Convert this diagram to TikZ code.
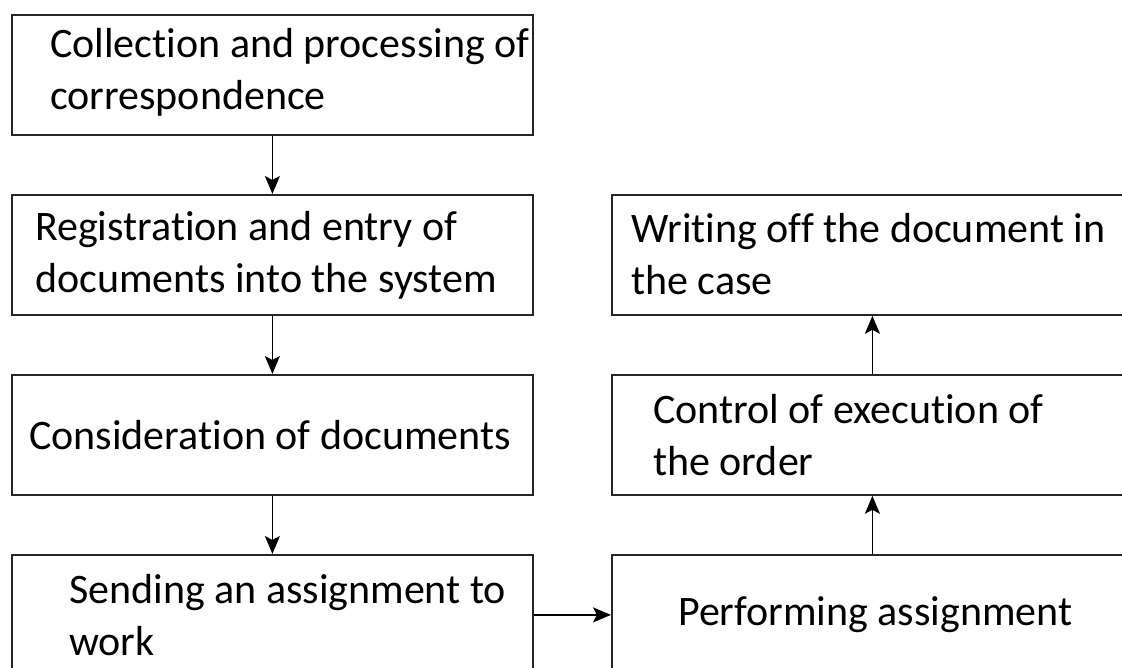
\documentclass[tikz,border=0pt]{standalone}
\usepackage{fontspec}
\setmainfont{Carlito}[Ligatures={NoCommon}]
\usetikzlibrary{arrows.meta,calc}

\begin{document}
\begin{tikzpicture}[x=1pt,y=-1pt,
  box/.style={draw=black!85,line width=1.8pt,minimum width=521pt,minimum height=120pt,inner sep=0pt,anchor=north west},
  label/.style={anchor=west,align=left,inner sep=0pt,font=\fontsize{42pt}{52pt}\selectfont},
  flow/.style={line width=1.6pt,-{Stealth[length=18pt,width=15pt,inset=4pt]}}]
  \useasboundingbox (0,0) rectangle (1122,668);
  \clip (0,0) rectangle (1122,668);
  \fill[white] (0,0) rectangle (1122,668);

  % left column
  \node[box] (b1) at (11,14) {};
  \node[box] (b2) at (11,194) {};
  \node[box] (b3) at (11,374) {};
  \node[box] (b4) at (11,554) {};
  % right column
  \node[box] (r1) at (611,194) {};
  \node[box] (r2) at (611,374) {};
  \node[box] (r3) at (611,554) {};

  % texts
  \node[label] (t1) at ($(b1.west)+(39,-3)$) {Collection and processing of\\correspondence};
  \node[label] (t2) at ($(b2.west)+(24,0)$) {Registration and entry of\\documents into the system};
  \node[label] (t3) at ($(b3.west)+(18,0)$) {Consideration of documents};
  \node[label] (t4) at ($(b4.west)+(58,0)$) {Sending an assignment to\\work};
  \node[label] (t5) at ($(r1.west)+(20,-1)$) {Writing off the document in\\the case};
  \node[label] (t6) at ($(r2.west)+(42,0)$) {Control of execution of\\the order};
  \node[label] (t7) at ($(r3.west)+(67,0)$) {Performing assignment};

  % connectors
  \draw[flow] (b1.south) -- (b2.north);
  \draw[flow] (b2.south) -- (b3.north);
  \draw[flow] (b3.south) -- (b4.north);
  \draw[flow] (b4.east) -- (r3.west);
  \draw[flow] (r3.north) -- (r2.south);
  \draw[flow] (r2.north) -- (r1.south);
\end{tikzpicture}
\end{document}
